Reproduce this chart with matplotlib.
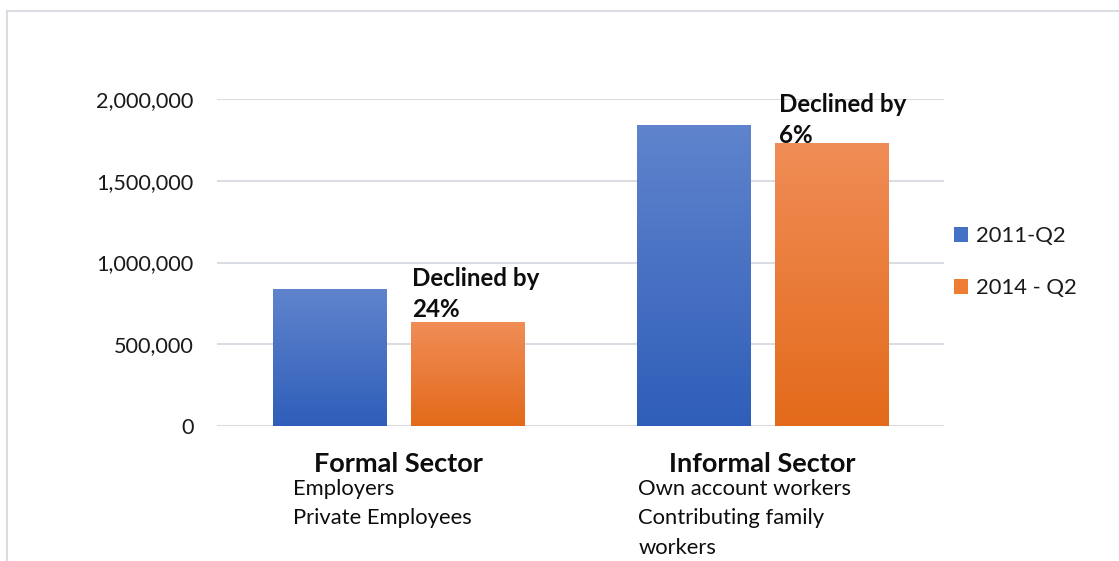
import matplotlib
matplotlib.use("Agg")
import matplotlib.pyplot as plt
import numpy as np
from matplotlib.colors import LinearSegmentedColormap
from matplotlib.patches import Rectangle, Patch
from matplotlib.ticker import FuncFormatter

categories = ["Formal Sector", "Informal Sector"]
sublabels = [["Employers", "Private Employees"],
             ["Own account workers", "Contributing family\nworkers"]]
series_names = ["2011-Q2", "2014 - Q2"]
values_2011 = [838000, 1841000]
values_2014 = [636000, 1731000]
annotations = ["Declined by\n24%", "Declined by\n6%"]
yticks = [0, 500000, 1000000, 1500000, 2000000]

plt.rcParams['font.family'] = ['Lato', 'DejaVu Sans']

fig = plt.figure(figsize=(11.19, 5.61), dpi=100)
# outer chart border
fig.add_artist(Rectangle((7/1119, -0.1), 1.2, 1 - 11/561 + 0.1, transform=fig.transFigure,
                         fill=False, edgecolor='#D9DDE3', linewidth=1.5))

ax = fig.add_axes([217/1119, 1 - 426/561, 727/1119, 327/561])
ax.set_xlim(-0.5, 1.5)
ax.set_ylim(0, 2000000)

width = 0.311
gap = 0.069
off = (width + gap) / 2
x = np.arange(len(categories))

blue_cmap = LinearSegmentedColormap.from_list('b', ['#2F5EB9', '#6084CD'])
orange_cmap = LinearSegmentedColormap.from_list('o', ['#E36A1A', '#F08D57'])
grad = np.linspace(0, 1, 256).reshape(-1, 1)

for vals, dx, cmap in [(values_2011, -off, blue_cmap), (values_2014, off, orange_cmap)]:
    bars = ax.bar(x + dx, vals, width=width, color='none', edgecolor='none', zorder=3)
    for b in bars:
        x0, w, h = b.get_x(), b.get_width(), b.get_height()
        im = ax.imshow(grad, extent=[x0, x0 + w, 0, h], origin='lower', aspect='auto',
                       cmap=cmap, zorder=3, interpolation='bilinear')
        im.set_clip_path(b)

ax.set_xlim(-0.5, 1.5)
ax.set_ylim(0, 2000000)

ax.set_yticks(yticks)
ax.yaxis.set_major_formatter(FuncFormatter(lambda v, p: f"{int(v):,}"))
ax.tick_params(axis='y', length=0, pad=17, labelsize=15.6, labelcolor='#1a1a1a')
ax.set_xticks([])
ax.grid(axis='y', color='#D9DDE3', linewidth=1.5, zorder=0)
ax.set_axisbelow(True)
for s in ax.spines.values():
    s.set_visible(False)

# category labels
for i, cat in enumerate(categories):
    ax.annotate(cat, xy=(x[i], 0), xycoords='data', xytext=(0, -38),
                textcoords='offset pixels', ha='center', va='center',
                fontsize=19.5, fontweight='bold', color='#0d0d0d')
sub_dx = [-106, -124]
for i, subs in enumerate(sublabels):
    lines = "\n".join(subs)
    ax.annotate(lines, xy=(x[i], 0), xycoords='data', xytext=(sub_dx[i], -53),
                textcoords='offset pixels', ha='left', va='top',
                fontsize=15.8, color='#0d0d0d', linespacing=1.58)

# annotations
ax.annotate(annotations[0], xy=(x[0] + off, values_2014[0]), xycoords='data',
            xytext=(-56, 1), textcoords='offset pixels', ha='left', va='bottom',
            fontsize=17.4, fontweight='bold', color='#0d0d0d', linespacing=1.42)
ax.annotate(annotations[1], xy=(x[1] + off, values_2014[1]), xycoords='data',
            xytext=(-52, -4), textcoords='offset pixels', ha='left', va='bottom',
            fontsize=17.4, fontweight='bold', color='#0d0d0d', linespacing=1.42)

handles = [Patch(facecolor='#4470C6'), Patch(facecolor='#EE7C33')]
leg = fig.legend(handles, series_names, loc='center left',
                 bbox_to_anchor=(934/1119, 1 - 262/561), frameon=False,
                 fontsize=15.8, handlelength=0.65, handleheight=0.65,
                 handletextpad=0.35, labelspacing=1.45, labelcolor='#1a1a1a')

fig.savefig("out.png", dpi=100)
